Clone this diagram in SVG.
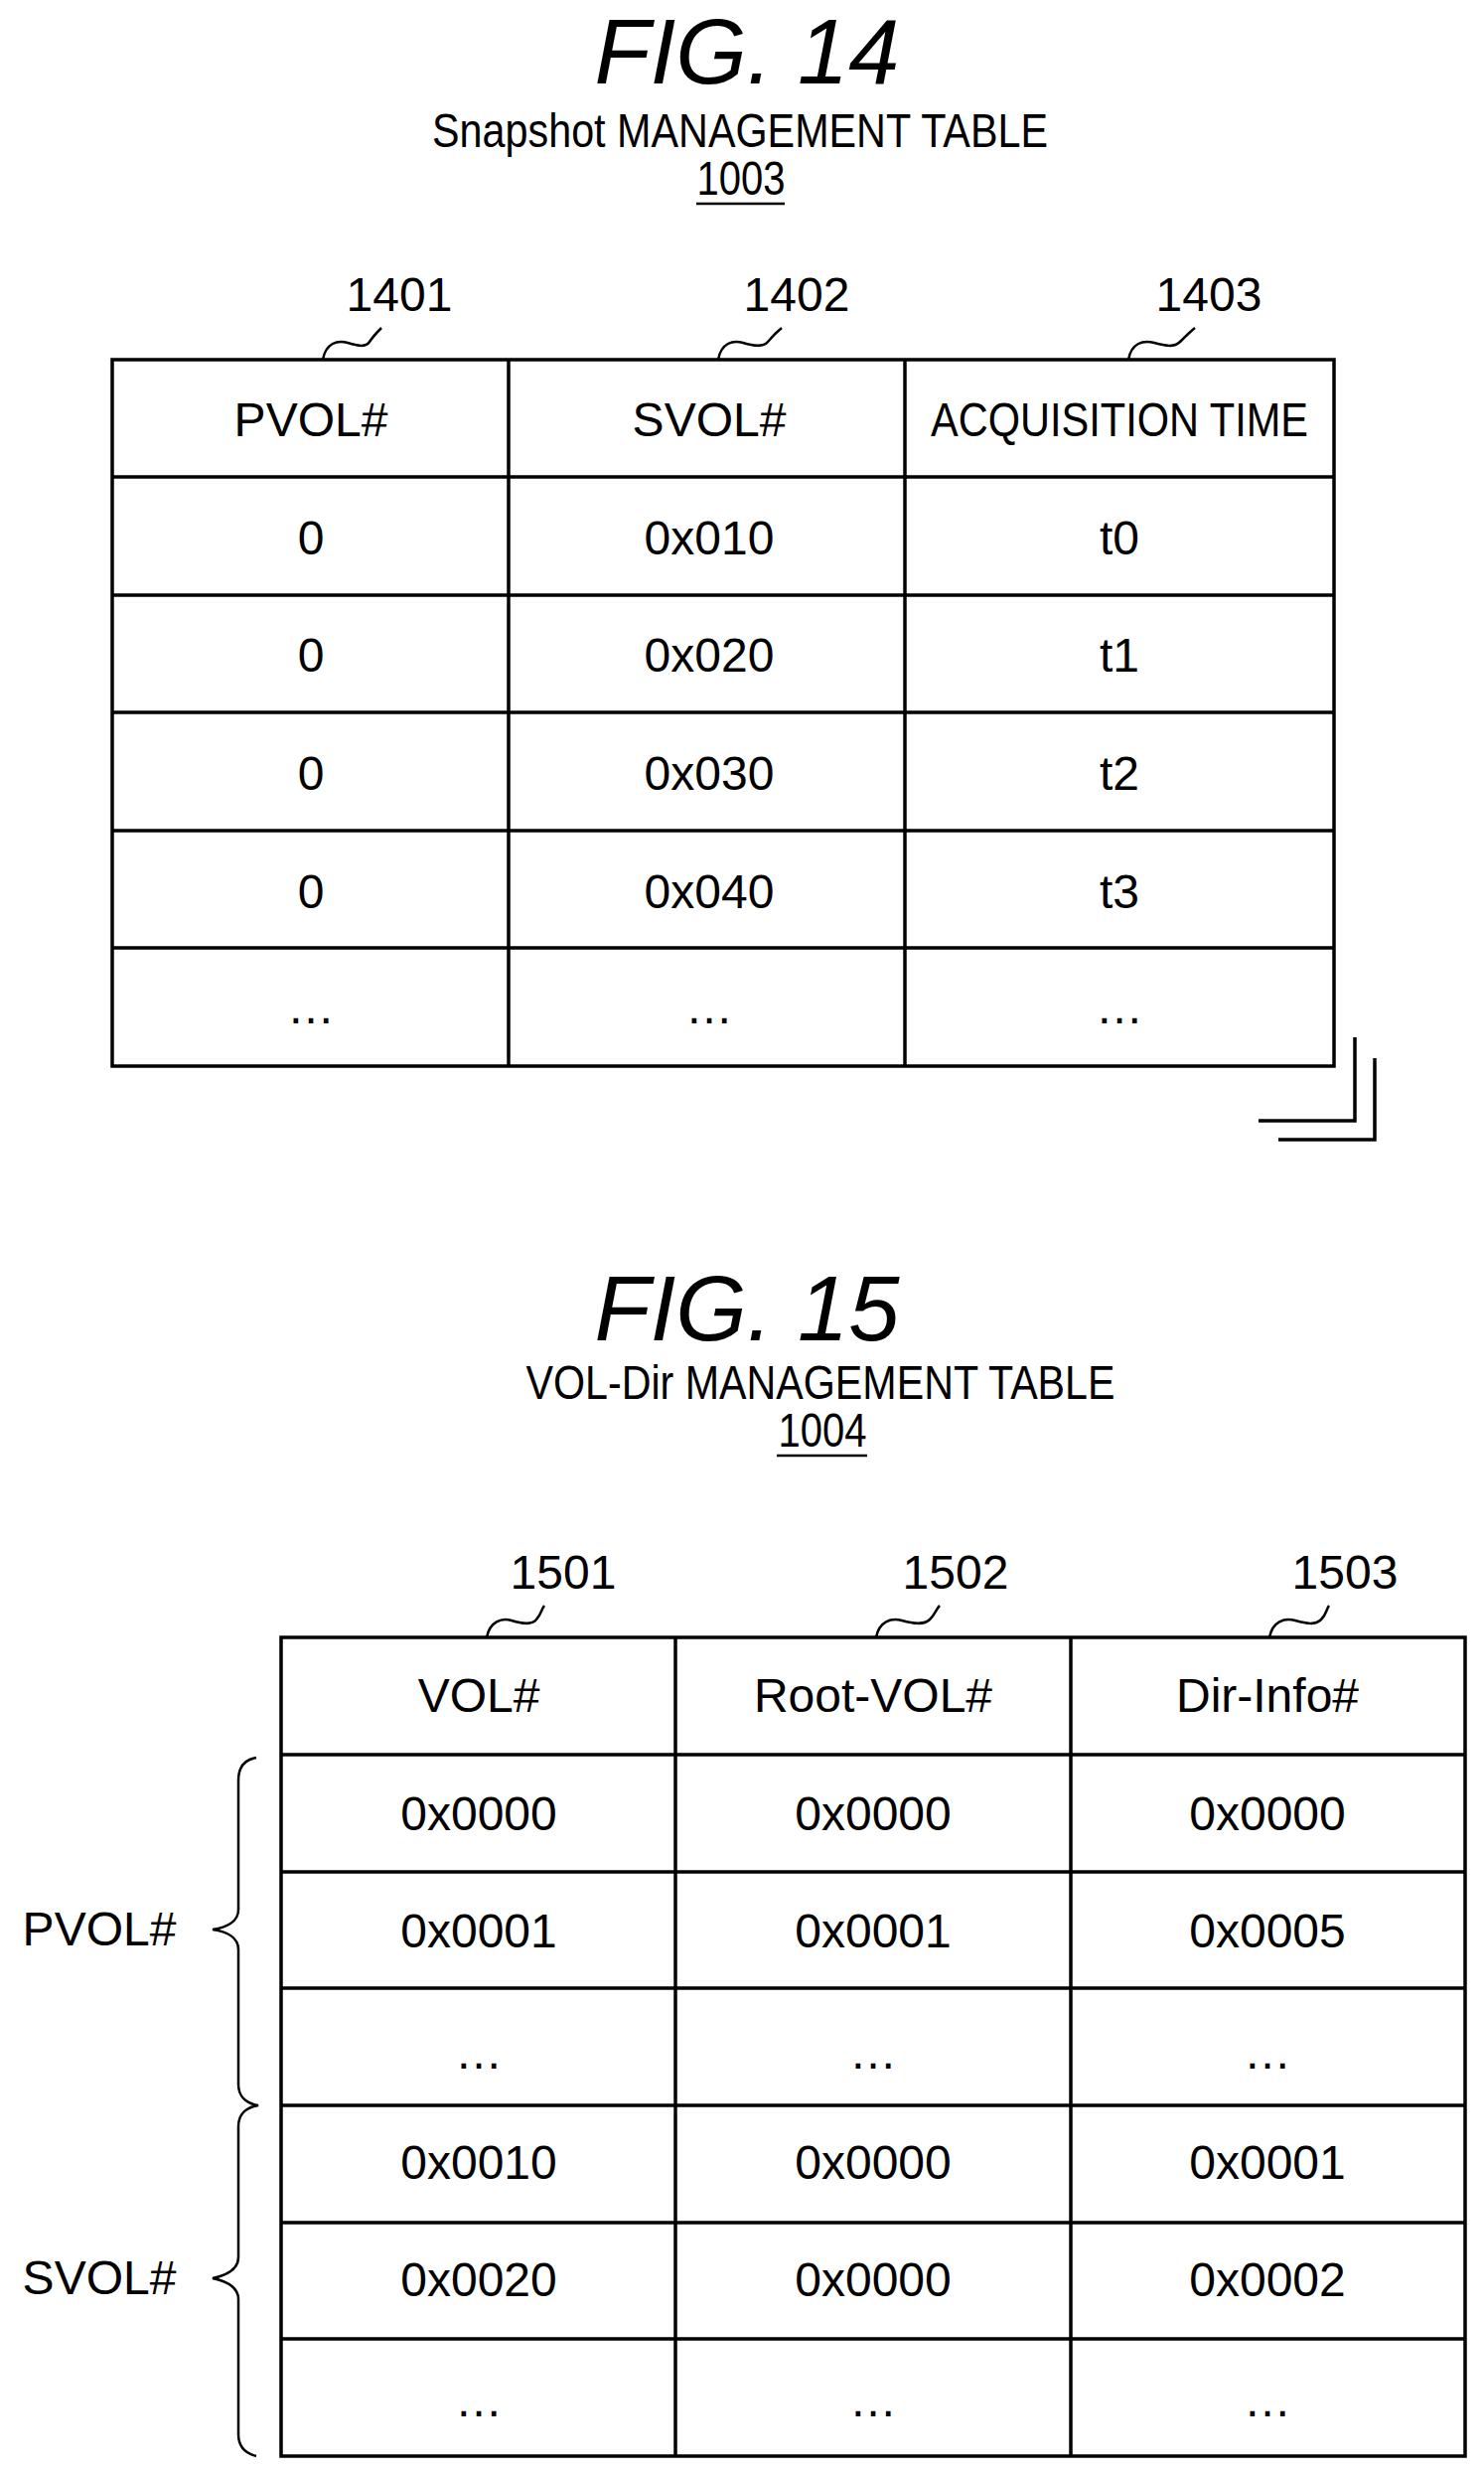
<svg xmlns="http://www.w3.org/2000/svg" width="1494" height="2488" viewBox="0 0 1494 2488">
<style>
.t{font-family:"Liberation Sans",Arial,sans-serif;font-size:48px;fill:#000;text-anchor:middle}
.fig{font-family:"Liberation Sans",Arial,sans-serif;font-size:92px;font-style:italic;fill:#000;text-anchor:middle}
.ln{stroke:#000;stroke-width:3.5;fill:none}
.sq{stroke:#000;stroke-width:2.5;fill:none}
</style>
<rect width="1494" height="2488" fill="#fff"/>
<g id="fig14">
<text class="fig" x="752" y="84">FIG. 14</text>
<text class="t" x="745" y="148" textLength="620" lengthAdjust="spacingAndGlyphs">Snapshot MANAGEMENT TABLE</text>
<text class="t" x="746" y="196" textLength="89" lengthAdjust="spacingAndGlyphs">1003</text>
<line class="sq" x1="701" y1="205" x2="790" y2="205"/>
</g>
<g id="table1003">
<rect class="ln" x="113" y="362" width="1230" height="711"/>
<line class="ln" x1="512" y1="362" x2="512" y2="1073"/>
<line class="ln" x1="911" y1="362" x2="911" y2="1073"/>
<line class="ln" x1="113" y1="480" x2="1343" y2="480"/>
<line class="ln" x1="113" y1="599" x2="1343" y2="599"/>
<line class="ln" x1="113" y1="717" x2="1343" y2="717"/>
<line class="ln" x1="113" y1="836" x2="1343" y2="836"/>
<line class="ln" x1="113" y1="954" x2="1343" y2="954"/>
<text class="t" x="313" y="439">PVOL#</text>
<text class="t" x="714" y="439">SVOL#</text>
<text class="t" x="1127" y="439" textLength="380" lengthAdjust="spacingAndGlyphs">ACQUISITION TIME</text>
<text class="t" x="313" y="558">0</text><text class="t" x="714" y="558">0x010</text><text class="t" x="1127" y="558">t0</text>
<text class="t" x="313" y="676">0</text><text class="t" x="714" y="676">0x020</text><text class="t" x="1127" y="676">t1</text>
<text class="t" x="313" y="795">0</text><text class="t" x="714" y="795">0x030</text><text class="t" x="1127" y="795">t2</text>
<text class="t" x="313" y="914">0</text><text class="t" x="714" y="914">0x040</text><text class="t" x="1127" y="914">t3</text>
<text class="t" x="313" y="1030">…</text><text class="t" x="714" y="1030">…</text><text class="t" x="1127" y="1030">…</text>
<path class="ln" d="M1364 1044V1128H1267M1384 1065V1147H1287"/>
</g>
<g id="labels1400">
<text class="t" x="402" y="313">1401</text>
<text class="t" x="802" y="313">1402</text>
<text class="t" x="1217" y="313">1403</text>
<path class="sq" d="M325 362C328 345 340 342 350 345S368 350 372 344S380 334 384 330"/>
<path class="sq" d="M723 362C726 345 738 342 748 345S768 350 773 344S782 334 787 330"/>
<path class="sq" d="M1136 362C1139 345 1151 342 1162 345S1182 350 1188 344S1198 334 1203 330"/>
</g>
<g id="fig15">
<text class="fig" x="752" y="1349">FIG. 15</text>
<text class="t" x="826" y="1408" textLength="593" lengthAdjust="spacingAndGlyphs">VOL-Dir MANAGEMENT TABLE</text>
<text class="t" x="828" y="1456" textLength="89" lengthAdjust="spacingAndGlyphs">1004</text>
<line class="sq" x1="782" y1="1465" x2="873" y2="1465"/>
</g>
<g id="table1004">
<rect class="ln" x="283" y="1648" width="1192" height="824"/>
<line class="ln" x1="680" y1="1648" x2="680" y2="2472"/>
<line class="ln" x1="1078" y1="1648" x2="1078" y2="2472"/>
<line class="ln" x1="283" y1="1766" x2="1475" y2="1766"/>
<line class="ln" x1="283" y1="1884" x2="1475" y2="1884"/>
<line class="ln" x1="283" y1="2001" x2="1475" y2="2001"/>
<line class="ln" x1="283" y1="2119" x2="1475" y2="2119"/>
<line class="ln" x1="283" y1="2237" x2="1475" y2="2237"/>
<line class="ln" x1="283" y1="2354" x2="1475" y2="2354"/>
<text class="t" x="482" y="1723">VOL#</text><text class="t" x="879" y="1723">Root-VOL#</text><text class="t" x="1276" y="1723">Dir-Info#</text>
<text class="t" x="482" y="1842">0x0000</text><text class="t" x="879" y="1842">0x0000</text><text class="t" x="1276" y="1842">0x0000</text>
<text class="t" x="482" y="1960">0x0001</text><text class="t" x="879" y="1960">0x0001</text><text class="t" x="1276" y="1960">0x0005</text>
<text class="t" x="482" y="2082">…</text><text class="t" x="879" y="2082">…</text><text class="t" x="1276" y="2082">…</text>
<text class="t" x="482" y="2193">0x0010</text><text class="t" x="879" y="2193">0x0000</text><text class="t" x="1276" y="2193">0x0001</text>
<text class="t" x="482" y="2311">0x0020</text><text class="t" x="879" y="2311">0x0000</text><text class="t" x="1276" y="2311">0x0002</text>
<text class="t" x="482" y="2432">…</text><text class="t" x="879" y="2432">…</text><text class="t" x="1276" y="2432">…</text>
</g>
<g id="labels1500">
<text class="t" x="567" y="1599">1501</text>
<text class="t" x="962" y="1599">1502</text>
<text class="t" x="1354" y="1599">1503</text>
<path class="sq" d="M490 1648C493 1632 505 1628 515 1631S535 1636 540 1630S545 1620 548 1616"/>
<path class="sq" d="M882 1648C885 1632 897 1628 908 1631S930 1636 936 1630S942 1620 946 1616"/>
<path class="sq" d="M1278 1648C1281 1632 1293 1628 1304 1631S1324 1636 1330 1630S1335 1620 1338 1616"/>
</g>
<g id="braces">
<path class="sq" d="M258 1769C246 1771 240 1778 240 1792V1922C240 1934 228 1940 214 1942C228 1944 240 1950 240 1962V2098C240 2110 248 2117 260 2119C248 2121 240 2128 240 2140V2272C240 2284 228 2290 214 2293C228 2296 240 2302 240 2314V2450C240 2462 246 2469 258 2472"/>
<text class="t" x="100" y="1958">PVOL#</text>
<text class="t" x="100" y="2309">SVOL#</text>
</g>
</svg>
